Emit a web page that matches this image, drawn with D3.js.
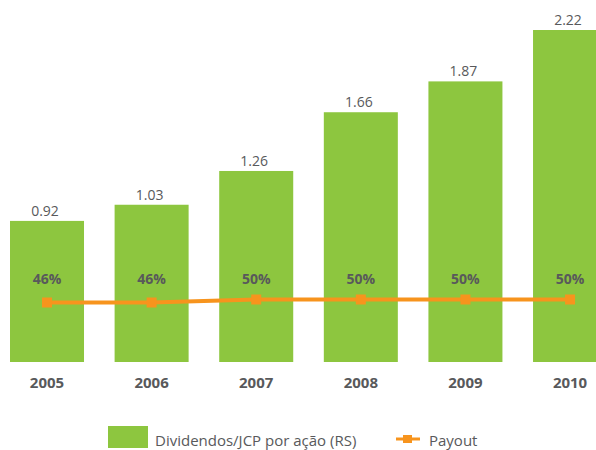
<!DOCTYPE html>
<html>
<head>
<meta charset="utf-8">
<script src="https://cdn.jsdelivr.net/npm/d3@7"></script>
<style>
  body { margin: 0; background: #fff; }
  svg { font-family: "Open Sans", "DejaVu Sans", sans-serif; }
</style>
</head>
<body>
<div id="chart"></div>
<script>
const years = ["2005", "2006", "2007", "2008", "2009", "2010"]
const dividends = [0.92, 1.03, 1.26, 1.66, 1.87, 2.22]
const payout = [46, 46, 50, 50, 50, 50]

const width = 596, height = 450
const green = "#8dc63f", orange = "#f7941d", grey = "#58595b"

const svg = d3.select("#chart").append("svg")
    .attr("width", width)
    .attr("height", height)

// bars every ~105px, 74px wide; last one runs off the right edge
const x = d3.scaleBand()
    .domain(years)
    .range([-0.46, 617.5])
    .paddingInner(0.2925)
    .paddingOuter(0.1)

const baseline = 362
const y = d3.scaleLinear().domain([0, 2.22]).range([356, 30])
const yPay = d3.scaleLinear().domain([0, 100]).range([337, 262])

svg.selectAll("rect.bar")
    .data(dividends)
    .enter().append("rect")
    .attr("class", "bar")
    .attr("x", (d, i) => x(years[i]))
    .attr("y", d => y(d))
    .attr("width", x.bandwidth())
    .attr("height", d => baseline - y(d))
    .attr("fill", green)

svg.selectAll("text.val")
    .data(dividends)
    .enter().append("text")
    .attr("class", "val")
    .attr("x", (d, i) => x(years[i]) + x.bandwidth() / 2 - 2)
    .attr("y", d => y(d) - 5)
    .attr("text-anchor", "middle")
    .attr("fill", grey)
    .style("font-size", "14px")
    .text(d => d.toFixed(2))

svg.selectAll("text.pct")
    .data(payout)
    .enter().append("text")
    .attr("class", "pct")
    .attr("x", (d, i) => x(years[i]) + x.bandwidth() / 2)
    .attr("y", 284)
    .attr("text-anchor", "middle")
    .attr("fill", grey)
    .style("font-size", "14px")
    .style("font-weight", "bold")
    .text(d => d + "%")

const line = d3.line()
    .x((d, i) => x(years[i]) + x.bandwidth() / 2)
    .y(d => yPay(d))

svg.append("path")
    .datum(payout)
    .attr("d", line)
    .attr("fill", "none")
    .attr("stroke", orange)
    .attr("stroke-width", 4)

svg.selectAll("rect.mark")
    .data(payout)
    .enter().append("rect")
    .attr("class", "mark")
    .attr("x", (d, i) => x(years[i]) + x.bandwidth() / 2 - 5)
    .attr("y", d => yPay(d) - 5)
    .attr("width", 10)
    .attr("height", 10)
    .attr("fill", orange)

svg.selectAll("text.year")
    .data(years)
    .enter().append("text")
    .attr("class", "year")
    .attr("x", d => x(d) + x.bandwidth() / 2)
    .attr("y", 388)
    .attr("text-anchor", "middle")
    .attr("fill", grey)
    .style("font-size", "15px")
    .style("font-weight", "bold")
    .text(d => d)

// legend
const legend = svg.append("g")
legend.append("rect")
    .attr("x", 108).attr("y", 426)
    .attr("width", 40).attr("height", 22)
    .attr("fill", green)
legend.append("text")
    .attr("x", 155).attr("y", 446)
    .attr("fill", grey)
    .style("font-size", "15px")
    .text("Dividendos/JCP por ação (RS)")
legend.append("line")
    .attr("x1", 396).attr("x2", 420)
    .attr("y1", 439).attr("y2", 439)
    .attr("stroke", orange).attr("stroke-width", 3)
legend.append("rect")
    .attr("x", 403).attr("y", 435)
    .attr("width", 9).attr("height", 8)
    .attr("fill", orange)
legend.append("text")
    .attr("x", 429).attr("y", 446)
    .attr("fill", grey)
    .style("font-size", "15px")
    .text("Payout")
</script>
</body>
</html>
